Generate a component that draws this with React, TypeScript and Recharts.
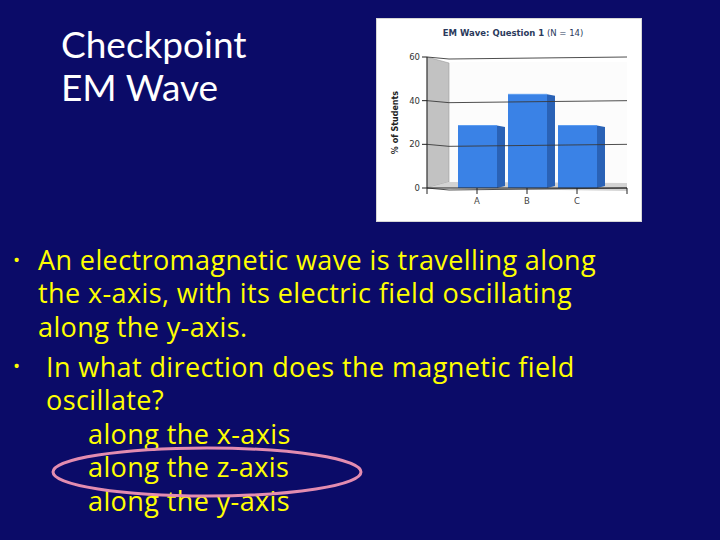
import React from 'react';
import { BarChart, Bar, XAxis, YAxis, ReferenceArea, ReferenceLine } from 'recharts';

// ---- data ----
const categories = ['A', 'B', 'C'];
const percentValues = [28.6, 42.9, 28.6];
const categoryPositions = [1, 2, 3];
const xTicks = [0, 1, 2, 3, 4];
const yTicks = [0, 20, 40, 60];

const chartTitle = 'EM Wave: Question 1';
const chartCount = '(N = 14)';
const yLabel = '% of Students';

const headingLines = ['Checkpoint', 'EM Wave'];
const bulletOneLines = [
  'An electromagnetic wave is travelling along',
  'the x-axis, with its electric field oscillating',
  'along the y-axis.',
];
const bulletTwoLines = ['In what direction does the magnetic field', 'oscillate?'];
const answerLines = ['along the x-axis', 'along the z-axis', 'along the y-axis'];

const data = categories.map((c, i) => ({ pos: categoryPositions[i], cat: c, value: percentValues[i] }));

const BG = '#0b0b68';
const YELLOW = '#ffff00';
const SLIDE_FONT = '"Open Sans", Lato, sans-serif';
const HEAD_FONT = 'Lato, "Open Sans", sans-serif';
const CHART_FONT = '"DejaVu Sans", Verdana, sans-serif';

const WALL_DEPTH = 22;

const Walls = (p: any) => {
  const { x, y, width, height } = p;
  const x1 = x + width;
  const yb = y + height;
  return (
    <g>
      <rect x={x + WALL_DEPTH} y={y + 5} width={width - WALL_DEPTH} height={height - 10} fill="#fcfcfc" />
      <polygon
        points={`${x},${y} ${x + WALL_DEPTH},${y + 6} ${x + WALL_DEPTH},${yb - 6} ${x},${yb}`}
        fill="#c2c2c2"
        stroke="#9a9a9a"
        strokeWidth={0.6}
      />
      <polygon
        points={`${x + WALL_DEPTH},${yb - 6} ${x1},${yb - 5} ${x1},${yb + 3} ${x},${yb}`}
        fill="#d3d3d3"
      />
    </g>
  );
};

const GridLine = (p: any) => {
  const { x1, y1, x2 } = p;
  return (
    <polyline
      points={`${x1},${y1} ${x1 + WALL_DEPTH},${y1 + 2} ${x2},${y1}`}
      fill="none"
      stroke="#3a3a3a"
      strokeWidth={0.9}
    />
  );
};

const Bar3D = (p: any) => {
  const { x, y, width, height } = p;
  if (!height || height <= 0) return null;
  const side = 8;
  const fw = width - side;
  const sx = x + 4;
  return (
    <g>
      <polygon
        points={`${sx + fw},${y} ${sx + width},${y + 1.5} ${sx + width},${y + height - 2} ${sx + fw},${y + height}`}
        fill="#2a62b6"
      />
      <rect x={sx} y={y} width={fw} height={height} fill="#3a82e6" />
      <line x1={sx} y1={y} x2={sx + fw} y2={y} stroke="#5b9cf0" strokeWidth={1} />
    </g>
  );
};

const lineStyle = (top: number, left: number, size: number, color: string, font = SLIDE_FONT, spacing = 0): React.CSSProperties => ({
  position: 'absolute',
  top,
  left,
  fontSize: size,
  lineHeight: `${size}px`,
  color,
  fontFamily: font,
  letterSpacing: spacing,
  fontVariantLigatures: 'none',
  whiteSpace: 'nowrap',
});

const TEXT_SIZE = 27;
const TEXT_SPACING = 0.4;

export default function App() {
  return (
    <div
      style={{
        position: 'fixed',
        left: 0,
        top: 0,
        width: 720,
        height: 540,
        background: BG,
        overflow: 'hidden',
      }}
    >
      {headingLines.map((t, i) => (
        <div key={t} style={lineStyle(25 + i * 43, 61, 37, '#ffffff', HEAD_FONT)}>
          {t}
        </div>
      ))}

      {/* chart panel */}
      <div
        style={{
          position: 'absolute',
          left: 376,
          top: 18,
          width: 266,
          height: 204,
          background: '#ffffff',
          boxSizing: 'border-box',
          border: '1px solid #d6d6d6',
        }}
      >
        <div
          style={{
            position: 'absolute',
            top: 9,
            left: 0,
            width: 272,
            textAlign: 'center',
            fontFamily: CHART_FONT,
            fontSize: 8.5,
            color: '#2b3a5c',
            whiteSpace: 'nowrap',
          }}
        >
          <span style={{ fontWeight: 'bold' }}>{chartTitle}</span> {chartCount}
        </div>
        <div style={{ position: 'absolute', left: -1, top: -1 }}>
          <BarChart width={266} height={204} data={data} margin={{ top: 39, right: 15, bottom: 12, left: 0 }}>
            <XAxis
              dataKey="pos"
              type="number"
              domain={[0, 4]}
              ticks={xTicks}
              tickFormatter={(v: number) => categories[categoryPositions.indexOf(v)] ?? ''}
              interval={0}
              height={22}
              axisLine={{ stroke: '#222' }}
              tickLine={{ stroke: '#222' }}
              tickSize={6}
              tickMargin={4}
              tick={{ fontSize: 8.5, fill: '#444', fontFamily: CHART_FONT }}
            />
            <YAxis
              type="number"
              domain={[0, 60]}
              ticks={yTicks}
              width={51}
              axisLine={{ stroke: '#222' }}
              tickLine={{ stroke: '#222' }}
              tickSize={5}
              tick={{ fontSize: 8.5, fill: '#333', fontFamily: CHART_FONT }}
              label={{
                value: yLabel,
                angle: -90,
                position: 'insideLeft',
                offset: 19,
                style: { fontSize: 8, fontWeight: 'bold', fill: '#222', fontFamily: CHART_FONT, textAnchor: 'middle' },
              }}
            />
            <ReferenceArea y1={0} y2={60} ifOverflow="visible" shape={<Walls />} />
            {yTicks.map((t) => (
              <ReferenceLine key={t} y={t} ifOverflow="visible" shape={<GridLine />} />
            ))}
            <Bar dataKey="value" barSize={47} isAnimationActive={false} shape={<Bar3D />} />
          </BarChart>
        </div>
      </div>

      {/* bullets */}
      <div style={lineStyle(251, 13, 19, YELLOW)}>•</div>
      {bulletOneLines.map((t, i) => (
        <div key={t} style={lineStyle([246, 279, 313][i], 38, TEXT_SIZE, YELLOW, SLIDE_FONT, TEXT_SPACING)}>
          {t}
        </div>
      ))}
      <div style={lineStyle(357, 13, 19, YELLOW)}>•</div>
      {bulletTwoLines.map((t, i) => (
        <div key={t} style={lineStyle([353, 386][i], 46, TEXT_SIZE, YELLOW, SLIDE_FONT, TEXT_SPACING)}>
          {t}
        </div>
      ))}
      {answerLines.map((t, i) => (
        <div key={t} style={lineStyle([420, 453, 487][i], 88, TEXT_SIZE, YELLOW, SLIDE_FONT, TEXT_SPACING)}>
          {t}
        </div>
      ))}

      <svg width={720} height={540} style={{ position: 'absolute', left: 0, top: 0, pointerEvents: 'none' }}>
        <ellipse cx={207} cy={472} rx={154} ry={24} fill="none" stroke="#e38cb0" strokeWidth={3} />
      </svg>
    </div>
  );
}
